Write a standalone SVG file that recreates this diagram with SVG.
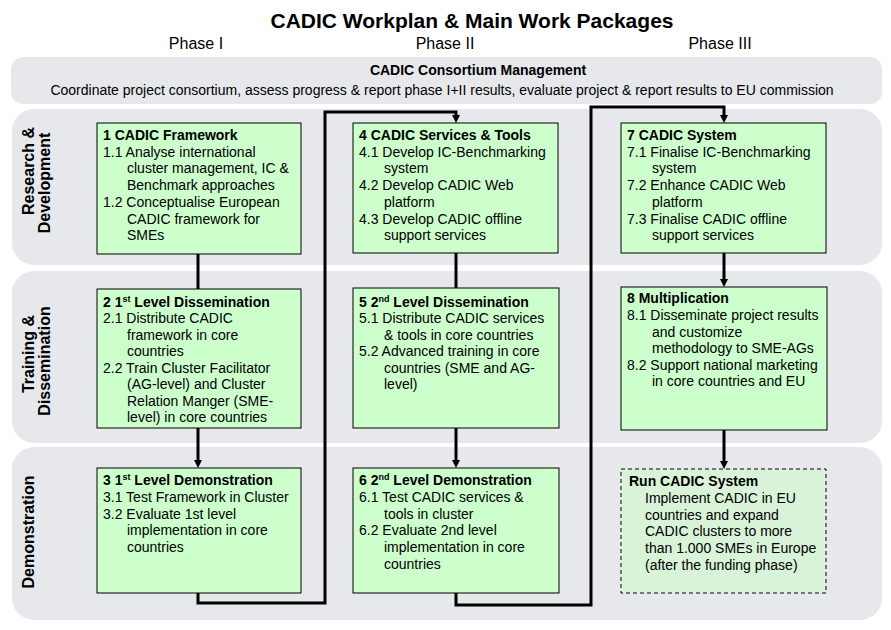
<svg xmlns="http://www.w3.org/2000/svg" width="891" height="630" viewBox="0 0 891 630">
<style>
text{font-family:"Liberation Sans",Arial,sans-serif;fill:#000}
.title{font-size:21px;font-weight:bold;text-anchor:middle}
.phase{font-size:16px;text-anchor:middle}
.band{fill:#e6e8ec}
.row{font-size:16px;font-weight:bold;text-anchor:middle}
.box{fill:#ccffcc;stroke:#000;stroke-width:1}
.run{fill:#d8f3d8;stroke:#000;stroke-width:1;stroke-dasharray:4 3}
.t{font-size:14px}
.h{font-size:14px;font-weight:bold}
.sup{font-size:9px}
.c{fill:none;stroke:#000;stroke-width:3;stroke-linejoin:miter}
</style>
<defs>
<marker id="ah" markerUnits="userSpaceOnUse" markerWidth="9" markerHeight="9" viewBox="0 0 9 9" refX="1" refY="4.5" orient="auto">
<path d="M0,0.5 L8,4.5 L0,8.5 z" fill="#000"/>
</marker>
</defs>
<rect width="891" height="630" fill="#fff"/>
<text class="title" x="472" y="28">CADIC Workplan &amp; Main Work Packages</text>
<text class="phase" x="196" y="49">Phase I</text>
<text class="phase" x="445" y="49">Phase II</text>
<text class="phase" x="720" y="49">Phase III</text>

<g id="management">
<rect class="band" x="11" y="57" width="871" height="47" rx="12"/>
<text class="h" x="478" y="75" text-anchor="middle">CADIC Consortium Management</text>
<text class="t" x="442" y="95" text-anchor="middle">Coordinate project consortium, assess progress &amp; report phase I+II results, evaluate project &amp; report results to EU commission</text>
</g>

<g id="row-rd">
<rect class="band" x="12" y="109" width="870" height="156" rx="22"/>
<text class="row" transform="translate(33.5,171) rotate(-90)">Research &amp;</text>
<text class="row" transform="translate(50,183) rotate(-90)">Development</text>
</g>
<g id="row-td">
<rect class="band" x="12" y="271" width="870" height="172" rx="22"/>
<text class="row" transform="translate(33.5,354) rotate(-90)">Training &amp;</text>
<text class="row" transform="translate(50,361) rotate(-90)">Dissemination</text>
</g>
<g id="row-demo">
<rect class="band" x="12" y="447" width="870" height="173" rx="22"/>
<text class="row" transform="translate(34,532) rotate(-90)">Demonstration</text>
</g>

<g id="connectors">
<path class="c" d="M198,254 V289"/>
<path class="c" d="M198,428 V461" marker-end="url(#ah)"/>
<path class="c" d="M198,593 V603 H325 V112 H456 V116" marker-end="url(#ah)"/>
<path class="c" d="M456,253 V288"/>
<path class="c" d="M456,428 V461" marker-end="url(#ah)"/>
<path class="c" d="M456,593 V605 H591 V107 H724 V116" marker-end="url(#ah)"/>
<path class="c" d="M724,253 V280" marker-end="url(#ah)"/>
<path class="c" d="M724,430 V462" marker-end="url(#ah)"/>
</g>

<g id="wp1">
<rect class="box" x="97" y="123" width="204" height="131"/>
<text class="h" x="103" y="140">1 CADIC Framework</text>
<text class="t" x="103" y="156.7">1.1 Analyse international</text>
<text class="t" x="127" y="173.4">cluster management, IC &amp;</text>
<text class="t" x="127" y="190.1">Benchmark approaches</text>
<text class="t" x="103" y="206.8">1.2 Conceptualise European</text>
<text class="t" x="127" y="223.5">CADIC framework for</text>
<text class="t" x="127" y="240.2">SMEs</text>
</g>

<g id="wp4">
<rect class="box" x="353" y="123" width="205" height="130"/>
<text class="h" x="359" y="140">4 CADIC Services &amp; Tools</text>
<text class="t" x="359" y="156.7">4.1 Develop IC-Benchmarking</text>
<text class="t" x="384" y="173.4">system</text>
<text class="t" x="359" y="190.1">4.2 Develop CADIC Web</text>
<text class="t" x="384" y="206.8">platform</text>
<text class="t" x="359" y="223.5">4.3 Develop CADIC offline</text>
<text class="t" x="384" y="240.2">support services</text>
</g>

<g id="wp7">
<rect class="box" x="621" y="123" width="205" height="130"/>
<text class="h" x="627" y="140">7 CADIC System</text>
<text class="t" x="627" y="156.7">7.1 Finalise IC-Benchmarking</text>
<text class="t" x="652" y="173.4">system</text>
<text class="t" x="627" y="190.1">7.2 Enhance CADIC Web</text>
<text class="t" x="652" y="206.8">platform</text>
<text class="t" x="627" y="223.5">7.3 Finalise CADIC offline</text>
<text class="t" x="652" y="240.2">support services</text>
</g>

<g id="wp2">
<rect class="box" x="97" y="289" width="204" height="139"/>
<text class="h" x="103" y="306.5">2 1<tspan class="sup" dy="-5">st</tspan><tspan dy="5"> Level Dissemination</tspan></text>
<text class="t" x="103" y="323">2.1 Distribute CADIC</text>
<text class="t" x="127" y="339.5">framework in core</text>
<text class="t" x="127" y="356">countries</text>
<text class="t" x="103" y="372.5">2.2 Train Cluster Facilitator</text>
<text class="t" x="127" y="389">(AG-level) and Cluster</text>
<text class="t" x="127" y="405.5">Relation Manger (SME-</text>
<text class="t" x="127" y="422">level) in core countries</text>
</g>

<g id="wp5">
<rect class="box" x="353" y="288" width="206" height="140"/>
<text class="h" x="359" y="306.5">5 2<tspan class="sup" dy="-5">nd</tspan><tspan dy="5"> Level Dissemination</tspan></text>
<text class="t" x="359" y="323">5.1 Distribute CADIC services</text>
<text class="t" x="384" y="339.5">&amp; tools in core countries</text>
<text class="t" x="359" y="356">5.2 Advanced training in core</text>
<text class="t" x="384" y="372.5">countries (SME and AG-</text>
<text class="t" x="384" y="389">level)</text>
</g>

<g id="wp8">
<rect class="box" x="621" y="287" width="206" height="143"/>
<text class="h" x="627" y="303">8 Multiplication</text>
<text class="t" x="627" y="320">8.1 Disseminate project results</text>
<text class="t" x="652" y="336.6">and customize</text>
<text class="t" x="652" y="353.2">methodology to SME-AGs</text>
<text class="t" x="627" y="369.8">8.2 Support national marketing</text>
<text class="t" x="652" y="386.4">in core countries and EU</text>
</g>

<g id="wp3">
<rect class="box" x="97" y="468" width="204" height="125"/>
<text class="h" x="103" y="485">3 1<tspan class="sup" dy="-5">st</tspan><tspan dy="5"> Level Demonstration</tspan></text>
<text class="t" x="103" y="501.8">3.1 Test Framework in Cluster</text>
<text class="t" x="103" y="518.6">3.2 Evaluate 1st level</text>
<text class="t" x="127" y="535.4">implementation in core</text>
<text class="t" x="127" y="552.2">countries</text>
</g>

<g id="wp6">
<rect class="box" x="353" y="468" width="206" height="125"/>
<text class="h" x="359" y="485">6 2<tspan class="sup" dy="-5">nd</tspan><tspan dy="5"> Level Demonstration</tspan></text>
<text class="t" x="359" y="501.8">6.1 Test CADIC services &amp;</text>
<text class="t" x="384" y="518.6">tools in cluster</text>
<text class="t" x="359" y="535.4">6.2 Evaluate 2nd level</text>
<text class="t" x="384" y="552.2">implementation in core</text>
<text class="t" x="384" y="569">countries</text>
</g>

<g id="run">
<rect class="run" x="621" y="469" width="205" height="124"/>
<text class="h" x="629" y="486">Run CADIC System</text>
<text class="t" x="645" y="502.8">Implement CADIC in EU</text>
<text class="t" x="645" y="519.6">countries and expand</text>
<text class="t" x="645" y="536.4">CADIC clusters to more</text>
<text class="t" x="645" y="553.2">than 1.000 SMEs in Europe</text>
<text class="t" x="645" y="570">(after the funding phase)</text>
</g>
</svg>
